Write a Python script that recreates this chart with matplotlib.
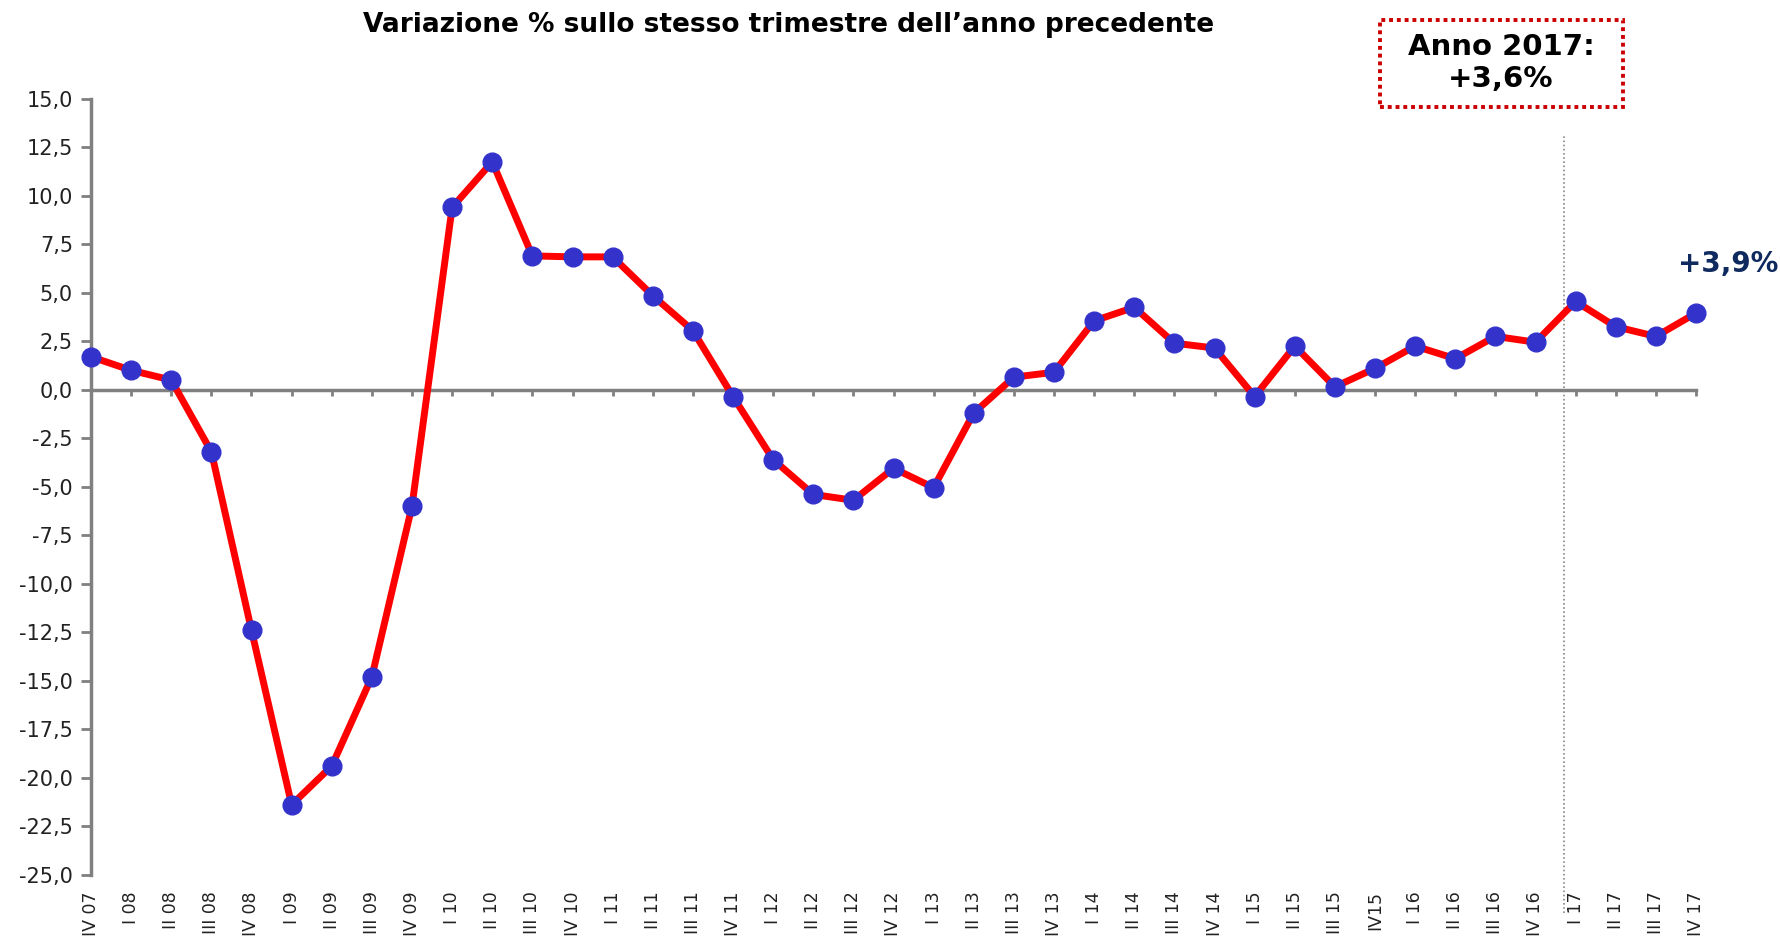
import matplotlib
matplotlib.use("Agg")
import matplotlib.pyplot as plt
from matplotlib.patches import Rectangle

# quarters from IV 07 to IV 17
quarters = ["IV 07", "I 08", "II 08", "III 08", "IV 08",
            "I 09", "II 09", "III 09", "IV 09",
            "I 10", "II 10", "III 10", "IV 10",
            "I 11", "II 11", "III 11", "IV 11",
            "I 12", "II 12", "III 12", "IV 12",
            "I 13", "II 13", "III 13", "IV 13",
            "I 14", "II 14", "III 14", "IV 14",
            "I 15", "II 15", "III 15", "IV15",
            "I 16", "II 16", "III 16", "IV 16",
            "I 17", "II 17", "III 17", "IV 17"]

# % change on same quarter of previous year
variation = [1.7, 1.0, 0.5, -3.2, -12.4,
             -21.4, -19.4, -14.8, -6.0,
             9.4, 11.75, 6.9, 6.85,
             6.85, 4.85, 3.05, -0.35,
             -3.6, -5.4, -5.7, -4.05,
             -5.05, -1.2, 0.65, 0.9,
             3.55, 4.25, 2.4, 2.15,
             -0.35, 2.25, 0.15, 1.1,
             2.25, 1.6, 2.75, 2.45,
             4.55, 3.25, 2.75, 3.95]

y_ticks = [15.0 - 2.5 * i for i in range(17)]
last_label = "+3,9%"
box_text = "Anno 2017:\n+3,6%"
title = "Variazione % sullo stesso trimestre dell\u2019anno precedente"

GRAY = "#808080"
W, H = 1781, 941

fig = plt.figure(figsize=(W / 100, H / 100), dpi=100)
ax = fig.add_axes([91 / W, 1 - 874.6 / H, (1696 - 91) / W, (874.6 - 98.8) / H])

x = list(range(len(quarters)))
ax.plot(x, variation, color="#ff0000", lw=5, marker="o", markersize=13.5,
        markerfacecolor="#3333cc", markeredgecolor="#3333cc", clip_on=False, zorder=5)

ax.set_xlim(0, len(quarters) - 1)
ax.set_ylim(-25, 15)
ax.set_yticks(y_ticks)
ax.set_yticklabels([f"{v:.1f}".replace(".", ",") for v in y_ticks], fontsize=15, color="#222222")
ax.tick_params(axis="y", direction="out", length=7, width=2, color=GRAY, pad=6)

ax.set_xticks(x)
ax.set_xticklabels(quarters, rotation=90, fontsize=12.5, color="#222222")
ax.tick_params(axis="x", length=0, pad=12)

for s in ["top", "right", "bottom"]:
    ax.spines[s].set_visible(False)
ax.spines["left"].set_color(GRAY)
ax.spines["left"].set_linewidth(2.5)

# category axis drawn at zero
zero_pos = 25 / 40
sec = ax.secondary_xaxis(zero_pos)
sec.set_alignment("bottom")
sec.set_xticks(x)
sec.tick_params(axis="x", direction="out", length=4, width=2, color=GRAY, labelbottom=False, labeltop=False)
for s in sec.spines.values():
    s.set_color(GRAY)
    s.set_linewidth(2.5)

# separator before 2017
ax.axvline(36.7, ymin=-0.05, ymax=0.955, color="#888888", lw=1.2, ls=(0, (1, 1.5)), clip_on=False, zorder=1)

ax.text(1728 / W, 1 - 264 / H, last_label, transform=fig.transFigure, ha="center", va="center",
        fontsize=20, fontweight="bold", color="#0f2a5e")

fig.text(789 / W, 1 - 25 / H, title, ha="center", va="center", fontsize=19, fontweight="bold")

rect = Rectangle((1380 / W, 1 - 107 / H), (1623 - 1380) / W, (107 - 20) / H, transform=fig.transFigure,
                 fill=False, ec="#cc0000", lw=2.8, ls=(0, (1, 1)))
fig.patches.append(rect)
fig.text(1501 / W, 1 - 63 / H, box_text, ha="center", va="center", fontsize=21, fontweight="bold",
         linespacing=1.15)

fig.savefig("out.png", dpi=100)
